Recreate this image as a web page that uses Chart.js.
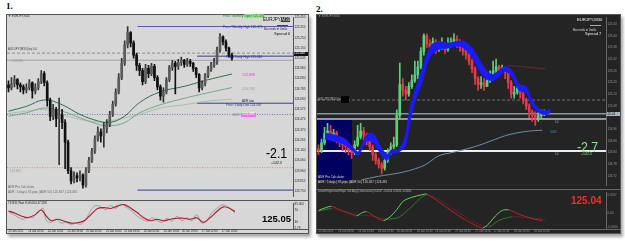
<!DOCTYPE html>
<html>
<head>
<meta charset="utf-8">
<script src="https://cdn.jsdelivr.net/npm/chart.js@4.4.1/dist/chart.umd.min.js"></script>
<style>
body { margin:0; background:#fff; width:625px; height:243px; position:relative; overflow:hidden; font-family:"Liberation Sans", Arial, sans-serif; }
.num { position:absolute; font:bold 9px "Liberation Serif", serif; color:#000; }
.panel { position:absolute; box-sizing:border-box; box-shadow:2px 3px 3px rgba(0,0,0,0.35); }
.sep { position:absolute; height:1px; }
canvas { position:absolute; }
.t { position:absolute; white-space:nowrap; line-height:1; }
</style>
</head>
<body>
<div class="num" style="left:6px;top:1px">1.</div>
<div class="num" style="left:316px;top:4px">2.</div>

<!-- panel 1 : light theme -->
<div class="panel" style="left:6px;top:14px;width:303px;height:220px;background:#d7d7d7;border:1px solid #555"></div>
<div class="sep" style="left:6px;top:200px;width:303px;background:#555"></div>
<div class="sep" style="left:6px;top:229px;width:303px;background:#555"></div>
<canvas id="leftMain" width="302" height="186" style="left:6px;top:14px"></canvas>
<canvas id="leftOsc" width="302" height="34" style="left:6px;top:200px"></canvas>

<!-- panel 2 : dark theme -->
<div class="panel" style="left:316px;top:14px;width:305px;height:220px;background:#242424;border:1px solid #555"></div>
<div style="position:absolute;left:317px;top:120px;width:35px;height:60px;background:#00005e"></div>
<div class="sep" style="left:316px;top:189px;width:305px;background:#666"></div>
<div class="sep" style="left:316px;top:229px;width:305px;background:#666"></div>
<canvas id="rightMain" width="305" height="175" style="left:316px;top:14px"></canvas>
<canvas id="rightOsc" width="305" height="45" style="left:316px;top:189px"></canvas>

<!-- texts panel 1 -->
<div class="t" style="left:8px;top:15px;font-size:3px;color:#333">▼ EURJPY,M30</div>
<div class="t" style="left:223px;top:15px;font-size:3.2px;color:#1f7f1f">Prev / Monthly <span style="background:#98e090">Open 125.431</span></div>
<div class="t" style="left:263px;top:18px;font-size:4.5px;color:#111">EURJPY,<span style="background:#333;color:#ddd">M30</span></div>
<div style="position:absolute;left:277px;top:25px;width:11px;height:1px;background:#444"></div>
<div class="t" style="left:264px;top:28px;font-size:3px;color:#222">Bar ends in 0m0s</div>
<div class="t" style="left:274px;top:32px;font-size:4px;color:#111">Spread 6</div>
<div class="t" style="left:223px;top:25.5px;font-size:3.2px;color:#2c2c8c">Prev / Weekly High 125.375</div>
<div class="t" style="left:8px;top:48px;font-size:3px;color:#444">AUDJPY(M30) bq 0.0</div>
<div class="t" style="left:12px;top:60px;font-size:3px;color:#999">124.988</div>
<div class="t" style="left:226px;top:56px;font-size:3.2px;color:#2c2c8c">Prev / Daily High 125.034</div>
<div class="t" style="left:242px;top:74px;font-size:3.5px;color:#e040e0">124.898</div>
<div class="t" style="left:242px;top:88px;font-size:3.5px;color:#999">124.780</div>
<div class="t" style="left:242px;top:99.5px;font-size:2.8px;color:#111">ADR Low</div>
<div class="t" style="left:226px;top:104px;font-size:3.2px;color:#2c2c8c">Prev / Daily Low 124.587</div>
<div class="t" style="left:233px;top:114px;font-size:3px;color:#888">ADR</div>
<div class="t" style="left:241px;top:112.5px;font-size:3.5px;color:#fff;background:#f070f0;padding:0.5px 1px">124.491</div>
<div class="t" style="left:10px;top:170px;font-size:3px;color:#999">123.982</div>
<div class="t" style="left:266px;top:145px;font-size:15px;color:#000;transform:scaleX(0.82);transform-origin:left">-2.1</div>
<div class="t" style="left:271px;top:162px;font-size:3.5px;color:#111">+142.3</div>
<div class="t" style="left:8px;top:186px;font-size:3px;color:#666">ADR Pro Calculator</div>
<div class="t" style="left:8px;top:190.5px;font-size:3px;color:#666">ADR : 5 days | 95 pips | ADR 50 | 125.367 | 124.491</div>
<div class="t" style="left:8px;top:201.5px;font-size:3px;color:#222">T3 RSI Wait 8 58.084 47.288</div>
<div class="t" style="left:262px;top:214px;font-size:9.5px;font-weight:bold;color:#000">125.05</div>
<div class="t" style="left:294px;top:51.5px;width:14px;font-size:3px;color:#fff;background:#111;padding:0.7px 0">125.048</div>

<!-- texts panel 2 -->
<div class="t" style="left:318px;top:15px;font-size:3px;color:#999">▼ EURJPY,M30</div>
<div class="t" style="left:577px;top:18px;font-size:4.2px;color:#eee">EURJPY,M30</div>
<div style="position:absolute;left:590px;top:25px;width:11px;height:1px;background:#aaa"></div>
<div class="t" style="left:573px;top:28.5px;font-size:3px;color:#ddd">Bar ends in 0m0s</div>
<div class="t" style="left:585px;top:32px;font-size:4px;color:#eee">Spread 7</div>
<div class="t" style="left:318px;top:97.5px;font-size:3px;color:#aaa">AUDJPY(M30) bq</div>
<div style="position:absolute;left:341px;top:96px;width:8px;height:7px;background:#000"></div>
<div class="t" style="left:555px;top:121px;font-size:3px;color:#aaa">10</div>
<div class="t" style="left:550px;top:131px;font-size:3px;color:#4a80d0">5088</div>
<div class="t" style="left:555px;top:153px;font-size:3px;color:#aaa">10</div>
<div class="t" style="left:577px;top:139px;font-size:15px;color:#8fe08f;transform:scaleX(0.82);transform-origin:left">-2.7</div>
<div class="t" style="left:581px;top:153px;font-size:3.5px;color:#8fe08f">+142.3</div>
<div class="t" style="left:318px;top:175.5px;font-size:3px;color:#ddd">ADR Pro Calculator</div>
<div class="t" style="left:318px;top:180.5px;font-size:3px;color:#ddd">ADR : 5 days | 95 pips | ADR 50 | 125.367 | 124.491</div>
<div class="t" style="left:318px;top:190.5px;font-size:2.7px;color:#bbb">LinearRegressionSlope Tick Avg (Linear.wave) 0.0017 -0.0014 0.0000 -0.0000</div>
<div class="t" style="left:571px;top:196px;font-size:10px;font-weight:bold;color:#ff2a2a">125.04</div>
<div class="t" style="left:606px;top:112px;width:14px;font-size:3px;color:#111;background:#aab4c0;padding:0.7px 0">125.04</div>

<script>
// ---------- panel 1 : EURJPY M30, light template ----------
const leftOpen0 = 124.79;
const leftClose = [124.76,124.80,124.84,124.79,124.77,124.74,124.76,124.81,124.73,124.76,
  124.82,124.90,124.81,124.64,124.48,124.55,124.46,124.50,124.42,124.23,
  123.95,123.85,123.90,123.88,123.91,123.81,123.95,124.05,124.14,124.26,
  124.33,124.29,124.36,124.40,124.50,124.60,124.72,124.86,125.00,125.18,
  125.30,125.20,125.08,124.98,124.93,124.82,124.95,124.90,124.97,124.86,
  124.77,124.68,124.72,124.84,124.96,125.00,124.97,125.01,125.03,124.99,
  125.02,125.00,124.95,124.89,124.76,124.80,124.88,124.94,124.98,125.01,
  125.13,125.26,125.21,125.15,125.08,125.05];
const leftHigh = [124.83,124.86,124.88,124.85,124.81,124.79,124.80,124.84,124.82,124.80,
  124.85,124.93,124.92,124.83,124.66,124.60,124.57,124.66,124.55,124.45,
  124.25,123.98,123.94,123.93,123.95,123.92,123.98,124.08,124.17,124.29,
  124.38,124.36,124.42,124.45,124.53,124.63,124.75,124.90,125.05,125.22,
  125.36,125.31,125.22,125.10,125.00,124.95,124.99,124.98,125.00,124.99,
  124.88,124.79,124.76,124.86,124.98,125.03,125.02,125.04,125.06,125.04,
  125.05,125.04,125.01,124.96,124.90,124.83,124.90,124.97,125.01,125.05,
  125.16,125.29,125.27,125.23,125.16,125.10];
const leftLow = [124.72,124.74,124.77,124.75,124.72,124.70,124.71,124.74,124.66,124.70,
  124.74,124.80,124.78,124.58,124.44,124.45,124.38,124.01,124.36,123.97,
  123.92,123.82,123.83,123.84,123.85,123.78,123.79,123.93,124.03,124.12,
  124.24,124.23,124.18,124.32,124.38,124.48,124.58,124.70,124.84,124.98,
  125.15,125.16,125.05,124.93,124.88,124.79,124.80,124.86,124.88,124.83,
  124.74,124.64,124.62,124.70,124.82,124.93,124.70,124.94,124.98,124.96,
  124.97,124.97,124.92,124.86,124.72,124.74,124.78,124.86,124.92,124.96,
  124.99,125.11,125.18,125.12,125.06,125.03];

// moving averages (bar index, price)
const leftMaX = [0, 6, 12, 18, 24, 30, 34, 39, 44, 51, 59, 66, 75];
const leftMaSlow = [124.532,124.579,124.642,124.595,124.500,124.437,124.421,124.484,124.617,124.722,124.775,124.832,124.896];
const leftMaMid = [124.484,124.516,124.563,124.532,124.468,124.405,124.389,124.421,124.516,124.595,124.658,124.706,124.763];
const leftMaLong = [124.509,124.532,124.547,124.500,124.452,124.427,124.437,124.468,124.500,124.563,124.595,124.627,124.649];

// price levels
const leftWeeklyHigh = 125.36, leftWeeklyLow = 123.76;
const leftDailyHigh = 125.07, leftDailyLow = 124.61;
const leftPivotDash = 125.10, leftBid = 125.03;
const leftAdrLine = 124.50, leftAdrLow = 123.98;

// T3 RSI window
const leftRsiX = [0,2,4.5,6.5,9,11,12.7,14.3,16.6,18.8,21,23.2,25.4,27.7,29.9,32.1,34.3,36.6,38.8,41,
  43.2,45.4,47.7,49.9,52.1,54.3,56.6,58.8,61,63.2,65.4,67.7,69.9,72.1,74.3,76];
const leftRsi = [70,62,50,44,56,74,50,32,38,30,23,24,32,56,80,83,80,89,95,82,
  64,44,32,38,32,38,42,42,38,44,26,44,68,86,80,68];
const leftRsiFastX = [0,1.7,3.2,4.9,6.6,8.2,9.9,11.6,12.7,14.3,16,17.7,19.3,21,22.7,24.3,26,27.7,29.3,31,
  32.7,34.3,36,37.7,39.3,41,43.2,44.9,46.6,48.2,49.9,51.6,53.2,54.9,56.6,58.2,59.9,61.6,63.2,64.9,
  66.6,68.2,69.9,71.6,73.2,74.9,76];
const leftRsiFast = [68,56,46,38,46,44,68,80,32,26,38,23,26,18,23,18,38,74,92,86,
  74,92,80,98,86,74,50,38,30,44,32,26,42,30,50,32,44,32,56,23,
  32,62,80,94,90,74,62];

const leftPriceTicks = [125.45,125.35,125.25,125.15,125.05,124.95,124.85,124.75,124.65,124.55,124.45,124.35,124.25,124.15,124.05,123.95,123.85,123.75];
const leftPriceLabels = ['125.450','125.355','125.250','125.150','125.045','124.960','124.880','124.785','124.690','124.575','124.475','124.370','124.265','124.160','124.060','123.960','123.855','123.750'];
const leftOscTicks = [97, 75, 25, 5];
const leftOscLabels = ['85.004','70','30','2.79'];
const leftDates = ['23 Jan 2015','24 Jan 02:00','24 Jan 10:00','24 Jan 18:00','25 Jan 02:00','25 Jan 10:00','25 Jan 18:00','26 Jan 02:00','26 Jan 10:00','26 Jan 18:00','27 Jan 02:00','27 Jan 10:00'];

// ---------- panel 2 : EURJPY M30, dark template ----------
const rightOpen0 = 124.86;
const rightClose = [124.85,124.89,124.94,124.95,124.93,124.94,124.91,124.89,124.88,124.87,
  124.85,124.84,124.88,124.92,124.95,124.93,124.90,124.87,124.83,124.80,
  124.78,124.76,124.80,124.84,124.87,124.88,125.03,125.19,125.16,125.14,
  125.18,125.21,125.24,125.28,125.36,125.44,125.40,125.38,125.41,125.37,
  125.38,125.39,125.37,125.40,125.41,125.42,125.41,125.38,125.36,125.34,
  125.31,125.27,125.22,125.19,125.20,125.18,125.21,125.24,125.26,125.28,
  125.26,125.27,125.25,125.20,125.14,125.15,125.17,125.14,125.11,125.08,
  125.05,125.03,125.02,125.03,125.04,125.04];
const rightHigh = [124.88,124.91,124.97,124.99,124.98,124.96,124.95,124.92,124.91,124.90,
  124.88,124.87,124.90,124.98,124.99,124.97,124.94,124.91,124.88,124.84,
  124.81,124.79,124.82,124.86,124.89,124.92,125.06,125.30,125.22,125.18,
  125.20,125.24,125.31,125.31,125.38,125.45,125.45,125.42,125.43,125.42,
  125.41,125.43,125.40,125.43,125.43,125.45,125.44,125.42,125.39,125.37,
  125.35,125.32,125.28,125.23,125.23,125.22,125.23,125.26,125.31,125.32,
  125.29,125.29,125.28,125.26,125.21,125.18,125.19,125.18,125.15,125.12,
  125.09,125.06,125.05,125.05,125.06,125.06];
const rightLow = [124.83,124.84,124.88,124.92,124.91,124.90,124.89,124.87,124.85,124.84,
  124.83,124.81,124.83,124.87,124.91,124.90,124.88,124.85,124.80,124.78,
  124.76,124.73,124.75,124.79,124.83,124.86,124.87,125.02,125.13,125.11,
  125.13,125.17,125.20,125.22,125.27,125.34,125.38,125.36,125.37,125.35,
  125.36,125.37,125.35,125.36,125.38,125.39,125.38,125.36,125.34,125.32,
  125.29,125.25,125.19,125.16,125.17,125.16,125.18,125.20,125.22,125.25,
  125.24,125.25,125.22,125.17,125.12,125.12,125.14,125.12,125.09,125.06,
  125.02,125.00,124.98,125.00,125.02,125.03];

// blue ribbon (upper / lower edge)
const rightBandX = [2.1,5.4,8.8,11.6,13.2,16,18.2,20.4,22.7,24.3,26.6,28.8,30.4,32.1,34.3,36,37.7,39.9,43.2,46.6,
  48.8,51,53.2,55.4,57.7,59.9,62.1,64.3,66.6,68.8,71,73.2,75.4,77.1];
const rightBandTop = [124.941,124.931,124.911,124.865,124.845,124.931,124.938,124.880,124.831,124.855,
  124.857,124.926,125.071,125.164,125.263,125.346,125.396,125.410,125.403,125.413,
  125.410,125.378,125.324,125.268,125.241,125.261,125.283,125.261,125.191,125.181,
  125.111,125.065,125.055,125.065];
const rightBandBottom = [124.909,124.899,124.879,124.845,124.825,124.899,124.892,124.840,124.799,124.835,
  124.843,124.874,124.999,125.106,125.197,125.294,125.344,125.370,125.377,125.387,
  125.370,125.332,125.266,125.222,125.209,125.229,125.257,125.229,125.159,125.149,
  125.079,125.045,125.035,125.045];

const rightMaX = [14.3,19.9,26.6,31,35.4,39.9,44.3,48.8,53.2,57.7,62.1,66.6,71,74.3];
const rightMa = [124.700,124.718,124.735,124.752,124.777,124.823,124.840,124.857,124.877,124.902,124.927,124.943,124.952,124.955];

const rightPivotDash = 125.11, rightBid = 125.04, rightAsk = 125.013, rightAdrLine = 124.848;
const rightTrendX = [63, 75.4], rightTrend = [125.288, 125.27];

const rightOscX = [0,2.1,4.3,7.7,11,12.7,14.3,16,18.8,21.6,23.8,26,28.2,31,34.3,36,39.9,44.3,48.8,53.2,
  54.6,56.6,58.8,61,63.2,66.6,71,74.3];
const rightOsc = [0.00021,0.00045,0.0006,0.00021,-0.00015,-0.0003,-0.00003,0.00009,-0.00039,-0.00075,
  -0.00039,0.0003,0.00111,0.00147,0.00171,0.00177,0.00105,0.00015,-0.00069,-0.00135,
  -0.00147,-0.00105,-0.0003,0.00021,0.00027,-0.00015,-0.00057,-0.00075];
const rightSignalX = [0,4.3,8.8,13.2,17.7,22.1,26.6,31,35.4,39.9,44.3,48.8,53.2,56.6,59.9,64.3,68.8,75.4];
const rightSignal = [0.00015,0.00039,0.00009,-0.00021,-0.0003,-0.0006,-0.00045,0.0006,0.00165,0.00129,
  0.00045,-0.00039,-0.00111,-0.00135,-0.00075,-0.00039,-0.00045,-0.00063];

const rightPriceTicks = [125.50,125.44,125.38,125.32,125.26,125.20,125.14,125.08,124.96,124.90,124.84,124.78,124.72];
const rightPriceLabels = ['125.50','125.44','125.38','125.32','125.26','125.20','125.14','125.08','124.96','124.90','124.84','124.78','124.72'];
const rightOscTicks = [0.0017, 0, -0.0014];
const rightOscLabels = ['0.0017','0.00','-0.0014'];
const rightDates = ['23 Jan 2015','23 Jan 06:30','23 Jan 14:30','23 Jan 22:30','26 Jan 06:30','26 Jan 14:30','26 Jan 22:30','27 Jan 06:30','27 Jan 14:30','27 Jan 22:30','28 Jan 06:30','28 Jan 14:30'];

const dateTickPos = [0, 6.6, 13.2, 19.8, 26, 32.7, 38.8, 45.4, 52.1, 58.2, 64.9, 71.6];

// ---------- helpers ----------
const X_MIN = -0.5, X_MAX = 95.5;

function pts(xs, ys) { return xs.map((x, i) => ({x: x, y: ys[i]})); }
function level(y, x0) { return [{x: x0, y: y}, {x: X_MAX, y: y}]; }

function line(data, color, width, extra) {
  return Object.assign({type: 'line', data: data, borderColor: color, borderWidth: width,
    pointRadius: 0, fill: false, tension: 0, order: 3}, extra || {});
}

function candles(open0, close, high, low, upBody, downBody, upWick, downWick) {
  const open = close.map((c, i) => i === 0 ? open0 : close[i - 1]);
  const up = close.map((c, i) => c >= open[i]);
  return [
    {type: 'bar', data: close.map((c, i) => ({x: i, y: [open[i], c]})),
      backgroundColor: up.map(u => u ? upBody : downBody), barThickness: 2, grouped: false, minBarLength: 1, order: 1},
    {type: 'bar', data: close.map((c, i) => ({x: i, y: [low[i], high[i]]})),
      backgroundColor: up.map(u => u ? upWick : downWick), barThickness: 1, grouped: false, order: 2}
  ];
}

function yAxis(min, max, values, labels, color, borderColor) {
  return {
    position: 'right', min: min, max: max,
    afterBuildTicks: s => { s.ticks = values.map(v => ({value: v})); },
    afterFit: s => { s.width = 15; },
    grid: {display: false, drawTicks: false},
    border: {display: true, color: borderColor},
    ticks: {autoSkip: false, font: {size: 3}, color: color, padding: 1.5, callback: (v, i) => labels[i]}
  };
}

function xHidden() {
  return {type: 'linear', display: false, min: X_MIN, max: X_MAX, offset: false};
}

function xDates(labels, color) {
  return {
    type: 'linear', min: X_MIN, max: X_MAX, offset: false,
    afterBuildTicks: s => { s.ticks = dateTickPos.map(v => ({value: v})); },
    afterFit: s => { s.height = 5; },
    grid: {display: false, drawTicks: false},
    border: {display: false},
    ticks: {autoSkip: false, maxRotation: 0, align: 'start', font: {size: 2.7}, color: color, padding: 1,
      callback: (v, i) => labels[i]}
  };
}

function makeChart(id, datasets, scales, padBottom) {
  return new Chart(document.getElementById(id), {
    type: 'bar',
    data: {datasets: datasets},
    options: {
      responsive: false, animation: false, events: [],
      layout: {padding: {top: 1, left: 1, bottom: padBottom, right: 0}},
      plugins: {legend: {display: false}, tooltip: {enabled: false}},
      scales: scales
    }
  });
}

function dirColor(up, down) {
  return {borderColor: ctx => ctx.p1.parsed.y >= ctx.p0.parsed.y ? up : down};
}

// ---------- panel 1 charts ----------
const leftDaily0 = 63.3, leftWeekly0 = 43.3;
makeChart('leftMain', [
  ...candles(leftOpen0, leftClose, leftHigh, leftLow, '#5c5c5c', '#101010', '#333', '#111'),
  line(pts(leftMaX, leftMaSlow), '#2f6f4f', 1, {tension: 0.4, order: 3}),
  line(pts(leftMaX, leftMaMid), '#6f9f80', 0.9, {tension: 0.4, order: 3}),
  line(pts(leftMaX, leftMaLong), '#9dbfa8', 0.9, {tension: 0.4, order: 3}),
  line(level(leftWeeklyHigh, leftWeekly0), '#5a5aa8', 1.2, {order: 4}),
  line(level(leftWeeklyLow, leftWeekly0), '#5a5aa8', 1.2, {order: 4}),
  line(level(leftDailyHigh, leftDaily0), '#3a3a90', 1, {order: 4}),
  line(level(leftDailyLow, leftDaily0), '#3a3a90', 1, {order: 4}),
  line(level(leftPivotDash, X_MIN), '#7a7a7a', 0.8, {borderDash: [3, 2], order: 5}),
  line(level(leftBid, X_MIN), '#9a9a9a', 0.9, {order: 5}),
  line(level(leftAdrLine, X_MIN), '#6a6ad0', 0.9, {borderDash: [1, 1.5], order: 5}),
  line(level(leftAdrLow, X_MIN), '#d08a70', 0.9, {borderDash: [1, 1.5], order: 5})
], {
  x: xHidden(),
  y: yAxis(123.696, 125.45, leftPriceTicks, leftPriceLabels, '#222', '#555')
}, 1);

makeChart('leftOsc', [
  line(pts(leftRsiX, leftRsi), '#b01830', 1.1, {tension: 0.3, order: 1}),
  line(pts(leftRsiFastX, leftRsiFast), '#8a8a8a', 0.7, {tension: 0.3, order: 2})
], {
  x: xDates(leftDates, '#222'),
  y: yAxis(0, 100, leftOscTicks, leftOscLabels, '#222', '#555')
}, 0);

// ---------- panel 2 charts ----------
makeChart('rightMain', [
  line(pts(rightBandX, rightBandTop), '#1a1aff', 0.8, {tension: 0.3, order: 0}),
  line(pts(rightBandX, rightBandBottom), '#1a1aff', 0.8, {tension: 0.3, order: 0, fill: '-1', backgroundColor: '#1a1aff'}),
  ...candles(rightOpen0, rightClose, rightHigh, rightLow, '#5ed07a', '#e8384a', '#5ed07a', '#e8384a'),
  line(pts(rightMaX, rightMa), '#6f8fb0', 1, {tension: 0.4, order: 3}),
  line(pts(rightTrendX, rightTrend), '#7a2a2a', 0.8, {order: 3}),
  line(level(rightPivotDash, X_MIN), '#8a8a8a', 0.8, {borderDash: [3, 2], order: 5}),
  line(level(rightBid, X_MIN), '#8a949e', 1.5, {order: 4}),
  line(level(rightAsk, X_MIN), '#b8c0c8', 1.5, {order: 4}),
  line(level(rightAdrLine, X_MIN), '#e8eef4', 2, {order: 4})
], {
  x: xHidden(),
  y: yAxis(124.67, 125.535, rightPriceTicks, rightPriceLabels, '#999', '#666')
}, 1);

makeChart('rightOsc', [
  line(pts(rightOscX, rightOsc), '#5fd35f', 1, {tension: 0.3, order: 1, segment: dirColor('#5fd35f', '#b02828')}),
  line(pts(rightSignalX, rightSignal), '#3a8a3a', 0.8, {tension: 0.3, order: 2, segment: dirColor('#3a8a3a', '#7a1f1f')})
], {
  x: xDates(rightDates, '#999'),
  y: yAxis(-0.00156, 0.00195, rightOscTicks, rightOscLabels, '#999', '#666')
}, 0);
</script>
</body>
</html>
